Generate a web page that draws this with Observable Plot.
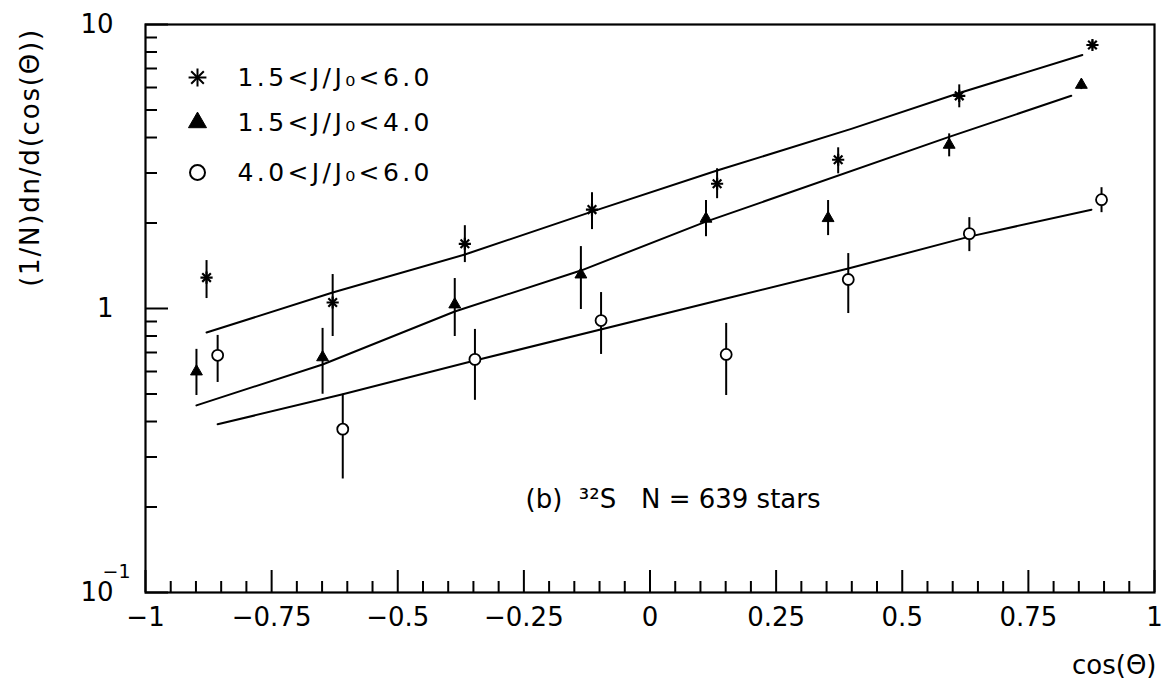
<!DOCTYPE html>
<html>
<head>
<meta charset="utf-8">
<script src="https://cdn.jsdelivr.net/npm/d3@7"></script>
<script src="https://cdn.jsdelivr.net/npm/@observablehq/plot@0.6"></script>
<style>
  html, body { margin: 0; padding: 0; background: #fff; }
  #chart svg { display: block; }
</style>
</head>
<body>
<div id="chart"></div>
<script>
// ---------- data ----------
const legendLabels = ["1.5<J/J₀<6.0", "1.5<J/J₀<4.0", "4.0<J/J₀<6.0"];

// series 1: 1.5<J/J0<6.0 (asterisks)
const s1X  = [-0.879, -0.629, -0.367, -0.115, 0.133, 0.373, 0.613, 0.877];
const s1Y  = [1.285, 1.05, 1.69, 2.23, 2.75, 3.34, 5.61, 8.47];
const s1Lo = [1.084, 0.797, 1.451, 1.896, 2.436, 2.98, 5.09, 8.2];
const s1Hi = [1.475, 1.317, 1.957, 2.557, 3.105, 3.68, 6.13, 8.75];

// series 2: 1.5<J/J0<4.0 (filled triangles)
const s2X  = [-0.899, -0.649, -0.387, -0.137, 0.111, 0.353, 0.593, 0.855];
const s2Y  = [0.600, 0.673, 1.033, 1.317, 2.07, 2.08, 3.77, 6.13];
const s2Lo = [0.494, 0.499, 0.797, 0.992, 1.79, 1.806, 3.42, 5.9];
const s2Hi = [0.718, 0.851, 1.275, 1.652, 2.40, 2.40, 4.12, 6.4];

// series 3: 4.0<J/J0<6.0 (open circles)
const s3X  = [-0.857, -0.609, -0.347, -0.097, 0.151, 0.393, 0.633, 0.895];
const s3Y  = [0.684, 0.376, 0.662, 0.907, 0.689, 1.265, 1.835, 2.416];
const s3Lo = [0.549, 0.251, 0.475, 0.689, 0.494, 0.960, 1.586, 2.175];
const s3Hi = [0.804, 0.499, 0.844, 1.138, 0.886, 1.561, 2.089, 2.663];

// fitted lines
const f1X = [-0.879, -0.629, -0.367, -0.115, 0.133, 0.399, 0.613, 0.857];
const f1Y = [0.823, 1.138, 1.549, 2.193, 3.06, 4.29, 5.74, 7.81];
const f2X = [-0.899, -0.649, -0.387, -0.137, 0.111, 0.593, 0.835];
const f2Y = [0.456, 0.635, 0.976, 1.360, 2.022, 4.02, 5.61];
const f3X = [-0.857, -0.609, -0.347, 0.151, 0.393, 0.633, 0.875];
const f3Y = [0.391, 0.499, 0.656, 1.084, 1.382, 1.791, 2.228];

// axes
const xTicks = [-1, -0.75, -0.5, -0.25, 0, 0.25, 0.5, 0.75, 1];
const xTickLabels = ["−1", "−0.75", "−0.5", "−0.25", "0", "0.25", "0.5", "0.75", "1"];
const xMinorTicks = [-0.95,-0.9,-0.85,-0.8,-0.7,-0.65,-0.6,-0.55,-0.45,-0.4,-0.35,-0.3,
                     -0.2,-0.15,-0.1,-0.05,0.05,0.1,0.15,0.2,0.3,0.35,0.4,0.45,
                     0.55,0.6,0.65,0.7,0.8,0.85,0.9,0.95];
const yTicks = [0.1, 1, 10];
const yTickLabels = ["10", "1", "10"];
const yExponentLabel = "−1";
const yMinorTicks = [0.2,0.3,0.4,0.5,0.6,0.7,0.8,0.9,2,3,4,5,6,7,8,9];
const xTitle = "cos(Θ)";
const yTitle = "(1/N)dn/d(cos(Θ))";
const note = "(b)  ³²S   N = 639 stars";

// ---------- build tables ----------
const pts = (X, Y, L, H) => X.map((x, i) => ({x, y: Y[i], lo: L[i], hi: H[i]}));
const line = (X, Y) => X.map((x, i) => ({x, y: Y[i]}));
const s1 = pts(s1X, s1Y, s1Lo, s1Hi);
const s2 = pts(s2X, s2Y, s2Lo, s2Hi);
const s3 = pts(s3X, s3Y, s3Lo, s3Hi);
const xLab = new Map(xTicks.map((t, i) => [t, xTickLabels[i]]));
const yLab = new Map(yTicks.map((t, i) => [t, yTickLabels[i]]));

const FONT = "DejaVu Sans";
const ink = "#000";

const legendRowsDy = [53, 98, 148];
const label = (txt, o) => Plot.text([txt], {x: null, y: null, text: d => d, fill: ink,
                                             lineAnchor: "middle", ...o});

const marks = [
  // ticks (inward) & labels
  Plot.axisX({ticks: xMinorTicks, tickSize: -11, strokeWidth: 2, tickFormat: () => "", label: null}),
  Plot.axisX({ticks: xTicks, tickSize: -22, strokeWidth: 2, tickFormat: () => "", label: null}),
  Plot.axisX({ticks: xTicks, tickSize: 0, tickPadding: 15, fontSize: 26, fill: ink,
              tickFormat: d => xLab.get(d), label: null}),
  Plot.axisY({ticks: yMinorTicks, tickSize: -12, strokeWidth: 2, tickFormat: () => "", label: null}),
  Plot.axisY({ticks: yTicks, tickSize: -23, strokeWidth: 2, tickFormat: () => "", label: null}),
  Plot.axisY({ticks: yTicks, tickSize: 0, tickPadding: 32, fontSize: 26, fill: ink,
              tickFormat: d => yLab.get(d), label: null}),
  label(yExponentLabel, {frameAnchor: "bottom-left", dx: -43, dy: -21,
              textAnchor: "start", fontSize: 19}),
  // titles
  label(yTitle, {frameAnchor: "top-left", dx: -115, dy: 133, rotate: -90,
              textAnchor: "middle", fontSize: 26}),
  label(xTitle, {frameAnchor: "bottom-right", dx: 2, dy: 73, textAnchor: "end", fontSize: 26}),
  label(note, {frameAnchor: "top-left", dx: 380, dy: 475, textAnchor: "start", fontSize: 26}),

  // fit lines
  Plot.line(line(f1X, f1Y), {x: "x", y: "y", stroke: ink, strokeWidth: 2}),
  Plot.line(line(f2X, f2Y), {x: "x", y: "y", stroke: ink, strokeWidth: 2}),
  Plot.line(line(f3X, f3Y), {x: "x", y: "y", stroke: ink, strokeWidth: 2}),

  // error bars
  Plot.ruleX(s1, {x: "x", y1: "lo", y2: "hi", stroke: ink, strokeWidth: 2}),
  Plot.ruleX(s2, {x: "x", y1: "lo", y2: "hi", stroke: ink, strokeWidth: 2}),
  Plot.ruleX(s3, {x: "x", y1: "lo", y2: "hi", stroke: ink, strokeWidth: 2}),

  // markers
  Plot.dot(s1, {x: "x", y: "y", symbol: "plus", r: 4, stroke: ink, strokeWidth: 2.2}),
  Plot.dot(s1, {x: "x", y: "y", symbol: "times", r: 4, stroke: ink, strokeWidth: 2.2}),
  Plot.dot(s2, {x: "x", y: "y", symbol: "triangle", r: 4.4, fill: ink, stroke: ink, strokeWidth: 1}),
  Plot.dot(s3, {x: "x", y: "y", symbol: "circle", r: 5.5, fill: "#fff", stroke: ink, strokeWidth: 1.8}),

  // legend
  Plot.dot([0], {x: null, y: null, frameAnchor: "top-left", dx: 52, dy: legendRowsDy[0],
                 symbol: "plus", r: 5.8, stroke: ink, strokeWidth: 2}),
  Plot.dot([0], {x: null, y: null, frameAnchor: "top-left", dx: 52, dy: legendRowsDy[0],
                 symbol: "times", r: 5.8, stroke: ink, strokeWidth: 2}),
  Plot.dot([0], {x: null, y: null, frameAnchor: "top-left", dx: 52, dy: legendRowsDy[1],
                 symbol: "triangle", r: 6.7, fill: ink, stroke: ink, strokeWidth: 1}),
  Plot.dot([0], {x: null, y: null, frameAnchor: "top-left", dx: 52, dy: legendRowsDy[2],
                 symbol: "circle", r: 7.5, fill: "#fff", stroke: ink, strokeWidth: 2}),
  ...legendLabels.map((lab, i) =>
    label(lab, {frameAnchor: "top-left", dx: 92, dy: legendRowsDy[i],
                textAnchor: "start", fontSize: 25})),

  // frame
  Plot.frame({stroke: ink, strokeWidth: 2.2})
];

const chart = Plot.plot({
  width: 1162,
  height: 686,
  marginLeft: 145,
  marginRight: 8,
  marginTop: 24,
  marginBottom: 94,
  style: {fontFamily: FONT, background: "#fff", color: ink},
  x: {domain: [-1, 1], axis: null},
  y: {type: "log", domain: [0.1, 10], axis: null},
  marks
});

// letter spacing to mimic the wide plotting font of the original
chart.querySelectorAll("text").forEach(t => {
  const s = t.textContent;
  if (legendLabels.includes(s)) t.style.letterSpacing = "3.4px";
  else if (s === yTitle) t.style.letterSpacing = "1.8px";
});
document.getElementById("chart").append(chart);
</script>
</body>
</html>
